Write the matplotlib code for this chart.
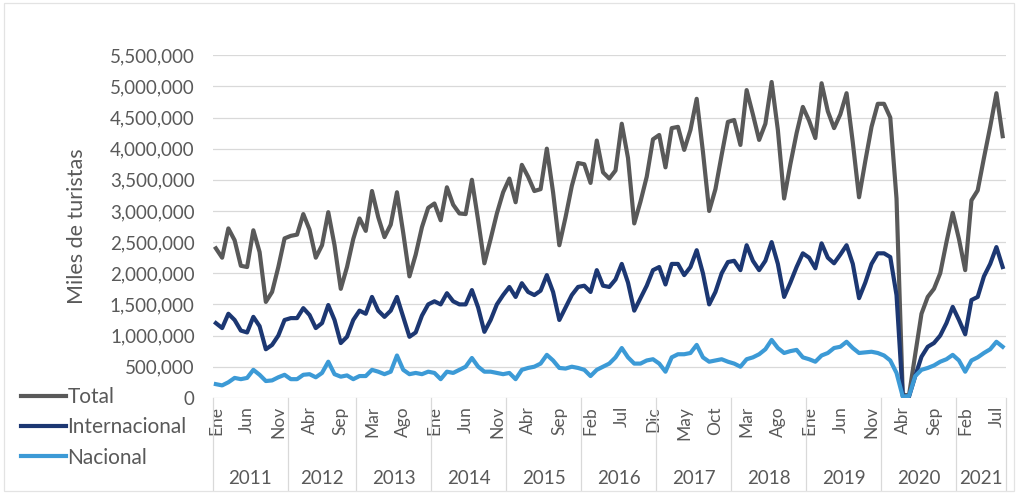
import numpy as np
import matplotlib
matplotlib.use("Agg")
import matplotlib.pyplot as plt
from matplotlib.ticker import FuncFormatter, MultipleLocator
from matplotlib.patches import Rectangle

plt.rcParams['font.family'] = ['Lato', 'DejaVu Sans']

# categorias: 2012 trae 11 meses en la fuente, 2021 llega a agosto
meses = ['Ene', 'Feb', 'Mar', 'Abr', 'May', 'Jun', 'Jul', 'Ago', 'Sep', 'Oct', 'Nov', 'Dic']
anios = [2011, 2012, 2013, 2014, 2015, 2016, 2017, 2018, 2019, 2020, 2021]
meses_anio = {2012: meses[:11], 2021: meses[:8]}

# valores en millones de turistas
total = [2.40, 2.25, 2.72, 2.53, 2.12, 2.10, 2.69, 2.34, 1.54, 1.70, 2.10, 2.56,
         2.60, 2.62, 2.95, 2.70, 2.25, 2.45, 2.98, 2.45, 1.75, 2.10, 2.55,
         2.88, 2.68, 3.32, 2.90, 2.58, 2.78, 3.30, 2.65, 1.95, 2.30, 2.74, 3.05,
         3.12, 2.85, 3.38, 3.10, 2.96, 2.95, 3.50, 2.85, 2.16, 2.55, 2.96, 3.30,
         3.52, 3.14, 3.74, 3.55, 3.32, 3.35, 4.00, 3.30, 2.45, 2.90, 3.40, 3.77,
         3.75, 3.45, 4.13, 3.62, 3.52, 3.65, 4.40, 3.85, 2.80, 3.15, 3.55, 4.15,
         4.22, 3.70, 4.33, 4.35, 3.98, 4.30, 4.80, 3.95, 3.00, 3.35, 3.90, 4.43,
         4.46, 4.06, 4.94, 4.55, 4.14, 4.40, 5.07, 4.30, 3.20, 3.75, 4.25, 4.67,
         4.45, 4.17, 5.05, 4.60, 4.33, 4.55, 4.89, 4.10, 3.22, 3.80, 4.35, 4.72,
         4.72, 4.50, 3.20, 0.05, 0.04, 0.70, 1.35, 1.62, 1.75, 2.00, 2.50, 2.97,
         2.55, 2.05, 3.17, 3.33, 3.85, 4.35, 4.89, 4.20]
internacional = [1.20, 1.12, 1.35, 1.25, 1.08, 1.05, 1.30, 1.15, 0.78, 0.85, 1.00, 1.25,
                 1.28, 1.28, 1.44, 1.33, 1.12, 1.20, 1.49, 1.25, 0.88, 0.98, 1.25,
                 1.40, 1.35, 1.62, 1.40, 1.30, 1.40, 1.62, 1.30, 0.98, 1.05, 1.32, 1.50,
                 1.55, 1.50, 1.68, 1.55, 1.50, 1.50, 1.73, 1.45, 1.06, 1.25, 1.50, 1.65,
                 1.78, 1.62, 1.84, 1.70, 1.65, 1.72, 1.97, 1.70, 1.25, 1.45, 1.65, 1.78,
                 1.80, 1.70, 2.05, 1.80, 1.78, 1.90, 2.15, 1.85, 1.40, 1.60, 1.80, 2.05,
                 2.10, 1.82, 2.15, 2.15, 1.97, 2.10, 2.37, 2.00, 1.50, 1.70, 2.00, 2.18,
                 2.20, 2.05, 2.45, 2.20, 2.05, 2.20, 2.50, 2.15, 1.62, 1.85, 2.10, 2.32,
                 2.25, 2.08, 2.48, 2.25, 2.16, 2.30, 2.45, 2.15, 1.60, 1.85, 2.15, 2.32,
                 2.32, 2.26, 1.65, 0.03, 0.02, 0.35, 0.66, 0.82, 0.88, 1.00, 1.20, 1.46,
                 1.25, 1.02, 1.57, 1.62, 1.95, 2.15, 2.42, 2.10]
nacional = [0.22, 0.20, 0.25, 0.32, 0.30, 0.32, 0.45, 0.37, 0.27, 0.28, 0.33, 0.37,
            0.30, 0.30, 0.37, 0.38, 0.33, 0.40, 0.58, 0.38, 0.34, 0.36, 0.30,
            0.35, 0.35, 0.45, 0.42, 0.38, 0.42, 0.68, 0.45, 0.38, 0.40, 0.38, 0.42,
            0.40, 0.30, 0.42, 0.40, 0.45, 0.50, 0.64, 0.50, 0.42, 0.42, 0.40, 0.38,
            0.40, 0.30, 0.45, 0.48, 0.50, 0.55, 0.69, 0.60, 0.48, 0.47, 0.50, 0.48,
            0.45, 0.35, 0.45, 0.50, 0.55, 0.65, 0.80, 0.65, 0.55, 0.55, 0.60, 0.62,
            0.55, 0.42, 0.65, 0.70, 0.70, 0.72, 0.85, 0.65, 0.58, 0.60, 0.62, 0.58,
            0.55, 0.50, 0.62, 0.65, 0.70, 0.78, 0.93, 0.80, 0.72, 0.75, 0.77, 0.65,
            0.62, 0.58, 0.68, 0.72, 0.80, 0.82, 0.90, 0.80, 0.72, 0.73, 0.74, 0.72,
            0.68, 0.60, 0.40, 0.02, 0.03, 0.35, 0.45, 0.48, 0.52, 0.58, 0.62, 0.69,
            0.60, 0.42, 0.60, 0.65, 0.72, 0.78, 0.90, 0.82]

etiquetas = []
anio_de = []
for a in anios:
    for m in meses_anio.get(a, meses):
        etiquetas.append(m)
        anio_de.append(a)
x = np.arange(len(etiquetas))

gris_txt = '#595959'
fig = plt.figure(figsize=(10.18, 4.93), dpi=100)
ax = fig.add_axes([0.209, 0.193, 0.779, 0.695])

ax.plot(x, np.array(total) * 1e6, color='#595959', lw=3, label='Total')
ax.plot(x, np.array(internacional) * 1e6, color='#1c3772', lw=3, label='Internacional')
ax.plot(x, np.array(nacional) * 1e6, color='#3c9ad6', lw=3, label='Nacional')

ax.set_xlim(-0.5, len(x) - 0.5)
ax.set_ylim(0, 5500000)
ax.yaxis.set_major_locator(MultipleLocator(500000))
ax.yaxis.set_major_formatter(FuncFormatter(lambda v, p: f'{int(v):,}'))
ax.grid(axis='y', color='#d9d9d9', lw=0.9)
ax.set_axisbelow(True)
for s in ax.spines.values():
    s.set_visible(False)
ax.tick_params(axis='y', length=0, pad=13, labelsize=13.5, labelcolor=gris_txt)
ax.set_ylabel('Miles de turistas', fontsize=15.5, color=gris_txt)
ax.yaxis.set_label_coords(-0.158, 0.5)

pos = x[::5]
ax.set_xticks(pos)
ax.set_xticklabels([etiquetas[i] for i in pos], rotation=90, va='top', ha='center')
ax.tick_params(axis='x', length=0, pad=6, labelsize=12.5, labelcolor=gris_txt)

# segundo nivel: años y separadores
anio_arr = np.array(anio_de)
trans = ax.get_xaxis_transform()
bordes = [-0.5]
for a in anios:
    idx = x[anio_arr == a]
    ax.text(idx.mean(), -0.235, str(a), transform=trans, ha='center', va='center',
            fontsize=13.5, color=gris_txt)
    bordes.append(idx[-1] + 0.5)
for b in bordes:
    ax.plot([b, b], [0, -0.27], transform=trans, color='#d9d9d9', lw=0.9, clip_on=False)

fig.legend(loc='upper left', bbox_to_anchor=(0.012, 0.232), frameon=False,
           fontsize=15, handlelength=2.2, handletextpad=0.05, labelspacing=0.5,
           labelcolor=gris_txt, borderaxespad=0)

fig.patches.append(Rectangle((0.004, 0.004), 0.992, 0.99, transform=fig.transFigure,
                             fill=False, edgecolor='#e3e3e3', lw=0.9))

fig.savefig('out.png', dpi=100)
